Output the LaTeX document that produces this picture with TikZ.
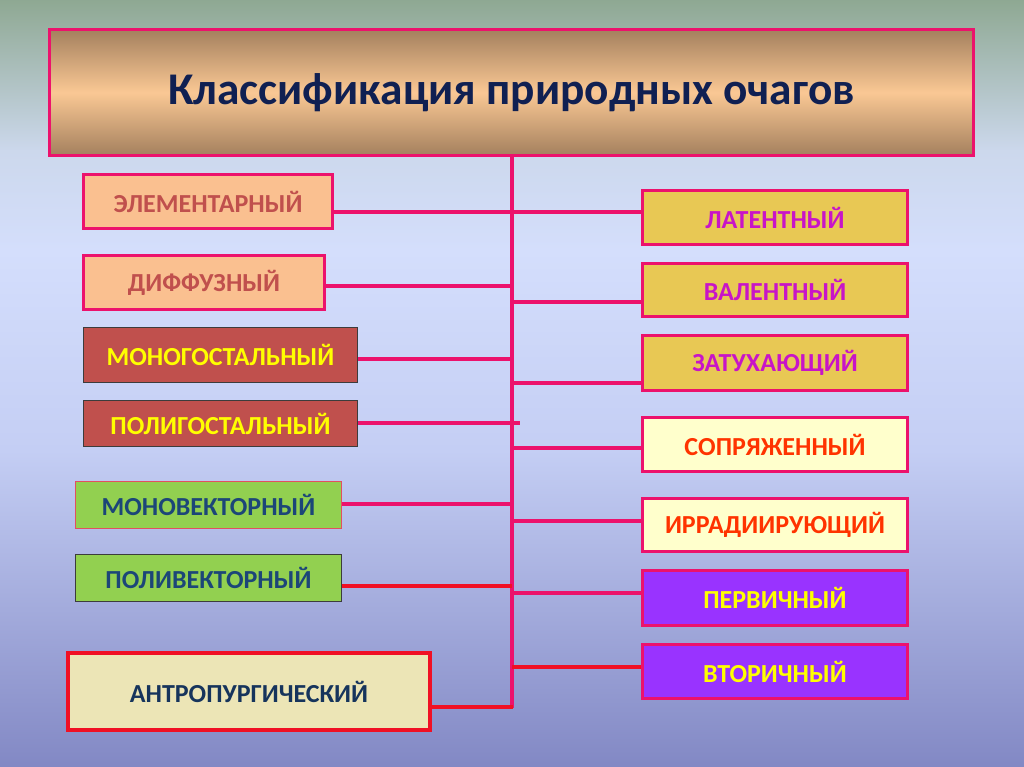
\documentclass[tikz,border=0pt]{standalone}
\usepackage{fontspec}
\setmainfont{Carlito}
\definecolor{bgA}{RGB}{142,168,146}
\definecolor{bgB}{RGB}{204,216,236}
\definecolor{bgC}{RGB}{212,222,252}
\definecolor{bgD}{RGB}{196,206,244}
\definecolor{bgE}{RGB}{130,136,196}
\definecolor{pinkline}{RGB}{236,18,108}
\definecolor{redline}{RGB}{240,16,36}
\definecolor{brownT}{RGB}{164,128,94}
\definecolor{peachT}{RGB}{250,200,148}
\definecolor{navy}{RGB}{16,32,82}
\definecolor{peach}{RGB}{250,192,144}
\definecolor{brick}{RGB}{192,80,77}
\definecolor{darkgray}{RGB}{60,60,60}
\definecolor{yel}{RGB}{255,255,0}
\definecolor{green}{RGB}{146,208,80}
\definecolor{dblue}{RGB}{28,70,120}
\definecolor{khaki}{RGB}{236,229,182}
\definecolor{anavy}{RGB}{22,52,92}
\definecolor{gold}{RGB}{232,200,84}
\definecolor{magtext}{RGB}{200,20,200}
\definecolor{cream}{RGB}{255,255,204}
\definecolor{orangered}{RGB}{255,51,0}
\definecolor{violet}{RGB}{153,51,255}
\definecolor{thinred}{RGB}{226,80,96}
\tikzset{
  box/.style={rectangle, inner sep=0pt, font=\fontsize{19.5}{22}\selectfont\bfseries},
  sz/.style 2 args={minimum width=#1*0.75pt, minimum height=#2*0.75pt},
  pinkbox/.style={box, draw=pinkline, line width=2.25pt},
  graybox/.style={box, draw=darkgray, line width=1.1pt},
  conn/.style={draw=pinkline, line width=2.8pt},
  rconn/.style={draw=redline, line width=2.8pt}
}
\begin{document}
\begin{tikzpicture}[x=0.75pt,y=-0.75pt]
\useasboundingbox (0,0) rectangle (1024,767);
% background
\shade[top color=bgA, bottom color=bgB] (0,-1) rectangle (1024,151);
\shade[top color=bgB, bottom color=bgC] (0,150) rectangle (1024,251);
\shade[top color=bgC, bottom color=bgD] (0,250) rectangle (1024,451);
\shade[top color=bgD, bottom color=bgE] (0,450) rectangle (1024,768);
% title
\node[box, draw=pinkline, line width=2.4pt, top color=brownT, bottom color=brownT, middle color=peachT,
      sz={924}{126}, text=navy, font=\fontsize{34}{40}\selectfont\bfseries] (title) at (511.5,92.5)
      {\raisebox{-2.2pt}{Классификация природных очагов}};
% left boxes
\node[pinkbox, fill=peach, text=brick, sz={249}{54}] (L1) at (208,201.5) {ЭЛЕМЕНТАРНЫЙ};
\node[pinkbox, fill=peach, text=brick, sz={241}{54}] (L2) at (204,282.5) {ДИФФУЗНЫЙ};
\node[graybox, fill=brick, text=yel, sz={274}{55}] (L3) at (220.5,355) {МОНОГОСТАЛЬНЫЙ};
\node[graybox, fill=brick, text=yel, sz={274}{46}] (L4) at (220.5,423.5) {ПОЛИГОСТАЛЬНЫЙ};
\node[box, draw=thinred, line width=0.9pt, fill=green, text=dblue, sz={266}{47}] (L5) at (208.5,505) {МОНОВЕКТОРНЫЙ};
\node[graybox, fill=green, text=dblue, sz={266}{47}] (L6) at (208.5,578) {ПОЛИВЕКТОРНЫЙ};
\node[box, draw=redline, line width=3.2pt, fill=khaki, text=anavy, sz={362}{77}] (L7) at (249,691.5) {АНТРОПУРГИЧЕСКИЙ};
% right boxes
\node[pinkbox, fill=gold, text=magtext, sz={265}{54}] (R1) at (775,217.5) {ЛАТЕНТНЫЙ};
\node[pinkbox, fill=gold, text=magtext, sz={265}{53}] (R2) at (775,290) {ВАЛЕНТНЫЙ};
\node[pinkbox, fill=gold, text=magtext, sz={265}{55}] (R3) at (775,363) {ЗАТУХАЮЩИЙ};
\node[pinkbox, fill=cream, text=orangered, sz={265}{54}] (R4) at (775,444.5) {СОПРЯЖЕННЫЙ};
\node[pinkbox, fill=cream, text=orangered, sz={265}{53}] (R5) at (775,525) {ИРРАДИИРУЮЩИЙ};
\node[pinkbox, fill=violet, text=yel, sz={265}{55}] (R6) at (775,598) {ПЕРВИЧНЫЙ};
\node[pinkbox, fill=violet, text=yel, sz={265}{54}] (R7) at (775,671.5) {ВТОРИЧНЫЙ};
% junctions on the trunk
\coordinate (tend) at (512,708);
\coordinate (jL1) at (512,212);
\coordinate (jL2) at (512,286);
\coordinate (jL3) at (512,359);
\coordinate (jL4) at (520,423);
\coordinate (jL5) at (512,504);
\coordinate (jL6) at (512,586);
\coordinate (jL7) at (512,707);
\coordinate (jR1) at (512,212);
\coordinate (jR2) at (512,302);
\coordinate (jR3) at (512,383);
\coordinate (jR4) at (512,448);
\coordinate (jR5) at (512,521);
\coordinate (jR6) at (512,593);
\coordinate (jR7) at (512,667);
% trunk
\draw[conn] (title.south -| tend) -- (tend);
% connectors
\draw[conn] (L1.east |- jL1) -- (jL1);
\draw[conn] (L2.east |- jL2) -- (jL2);
\draw[conn] (L3.east |- jL3) -- (jL3);
\draw[conn] (L4.east |- jL4) -- (jL4);
\draw[conn] (L5.east |- jL5) -- (jL5);
\draw[rconn] (L6.east |- jL6) -- (jL6);
\draw[rconn] (L7.east |- jL7) -- ([xshift=1pt]jL7);
\draw[conn] (jR1) -- (R1.west |- jR1);
\draw[conn] (jR2) -- (R2.west |- jR2);
\draw[conn] (jR3) -- (R3.west |- jR3);
\draw[conn] (jR4) -- (R4.west |- jR4);
\draw[conn] (jR5) -- (R5.west |- jR5);
\draw[conn] (jR6) -- (R6.west |- jR6);
\draw[rconn] (jR7) -- (R7.west |- jR7);
\end{tikzpicture}
\end{document}
